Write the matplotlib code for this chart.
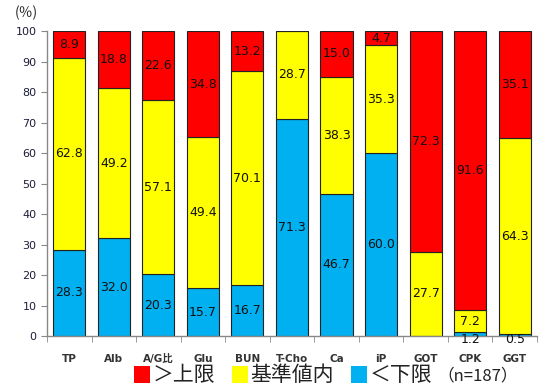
import numpy as np
import matplotlib.pyplot as plt
from matplotlib.patches import Rectangle

plt.rcParams['font.family'] = ['DejaVu Sans', 'Noto Sans CJK JP']

items = ["TP", "Alb", "A/G比", "Glu", "BUN", "T-Cho", "Ca", "iP", "GOT", "CPK", "GGT"]
below = [28.3, 32.0, 20.3, 15.7, 16.7, 71.3, 46.7, 60.0, 0.0, 1.2, 0.5]
normal = [62.8, 49.2, 57.1, 49.4, 70.1, 28.7, 38.3, 35.3, 27.7, 7.2, 64.3]
above = [8.9, 18.8, 22.6, 34.8, 13.2, 0.0, 15.0, 4.7, 72.3, 91.6, 35.1]

legend_labels = ["＞上限", "基準値内", "＜下限"]
colors = {"above": "#FF0000", "normal": "#FFFF00", "below": "#00B0F0"}

fig = plt.figure(figsize=(5.39, 3.89), dpi=100)
ax = fig.add_axes([0.0872, 0.1362, 0.909, 0.784])

x = np.arange(len(items))
below = np.array(below)
normal = np.array(normal)
above = np.array(above)

w = 0.72
layers = [(below, np.zeros(len(items)), colors["below"]),
          (normal, below, colors["normal"]),
          (above, below + normal, colors["above"])]

for vals, base, c in layers:
    ax.bar(x, vals, w, bottom=base, color=c, edgecolor="#222222", linewidth=0.8)
    for xi, v, b in zip(x, vals, base):
        if v > 0:
            yc = b + v / 2
            if v < 2:
                yc = -1.3
            ax.text(xi, yc, f"{v:.1f}", ha="center", va="center",
                    fontsize=9, color="#111111", clip_on=False)

ax.set_xlim(-0.5, len(items) - 0.5)
ax.set_ylim(0, 100)
ax.set_yticks(np.arange(0, 101, 10))
ax.set_xticks(x)
ax.set_xticklabels(items, fontsize=7.5, fontweight="bold", color="#333333")
ax.set_xticks(np.arange(-0.5, len(items), 1), minor=True)
ax.tick_params(axis="x", which="major", length=0, pad=13)
ax.tick_params(axis="x", which="minor", length=4, color="#888888", direction="out")
ax.tick_params(axis="y", length=4, color="#888888", labelsize=8, labelcolor="#1c1c3a")

for s in ["top", "right"]:
    ax.spines[s].set_visible(False)
for s in ["left", "bottom"]:
    ax.spines[s].set_color("#888888")
    ax.spines[s].set_linewidth(1.0)

fig.text(26 / 539, 1 - 13 / 389, "(％)", ha="center", va="center",
         fontsize=10, family=["Noto Sans CJK JP", "DejaVu Sans"], color="#222222")

# legend row under the axis
W, H = 539.0, 389.0
box_x = [134, 232, 351]
text_x = [153, 250, 370]
for bx, tx, lab, c in zip(box_x, text_x, legend_labels,
                          [colors["above"], colors["normal"], colors["below"]]):
    fig.add_artist(Rectangle((bx / W, 1 - 383 / H), 16 / W, 17 / H,
                             transform=fig.transFigure, facecolor=c,
                             edgecolor="none"))
    fig.text(tx / W, 1 - 375 / H, lab, ha="left", va="center", fontsize=15,
             family=["Noto Sans CJK JP", "DejaVu Sans"], color="#222222")
fig.text(437 / W, 1 - 376 / H, "（n=187）", ha="left", va="center", fontsize=12,
         family=["Noto Sans CJK JP", "DejaVu Sans"], color="#222222")

fig.savefig("out.png", dpi=100)
